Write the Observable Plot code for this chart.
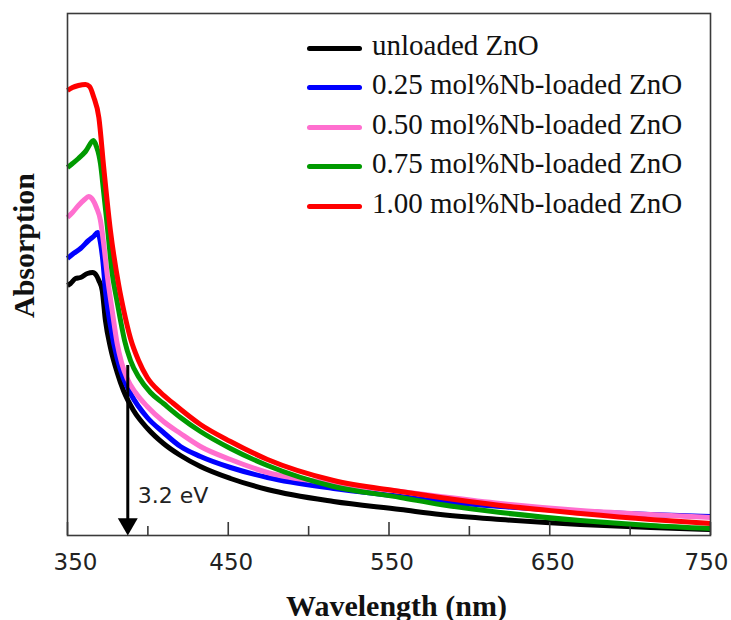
<!DOCTYPE html>
<html><head><meta charset="utf-8">
<script src="https://cdn.jsdelivr.net/npm/d3@7"></script>
<script src="https://cdn.jsdelivr.net/npm/@observablehq/plot@0.6"></script>
<style>
body{margin:0;background:#fff;}
#wrap{position:relative;width:731px;height:620px;overflow:hidden;background:#fff;}
.row{position:absolute;left:307px;height:0;}
.sw{position:absolute;left:0;width:55px;height:5px;border-radius:2.5px;top:-2.5px;}
.lt{position:absolute;left:65px;top:-17.3px;font:29px/29px "Liberation Serif",serif;white-space:nowrap;color:#111;}
</style></head><body><div id="wrap"></div>
<script>
// ---- data ----
const seriesNames = ["unloaded ZnO","0.25 mol%Nb-loaded ZnO","0.50 mol%Nb-loaded ZnO","0.75 mol%Nb-loaded ZnO","1.00 mol%Nb-loaded ZnO"];
const seriesColors = ["#000000","#0000ff","#ff6fcf","#009a00","#ff0000"];

const wlUnloaded  = [350,351.9,355,358.1,362.4,365.6,368,369.5,371.6,373.6,376.7,380.9,384.8,391.1,399.8,409.7,420.3,432.7,451.4,474.4,515.5,557.2,582,619.4,669.1,712.7,750];
const absUnloaded = [2.50,2.52,2.57,2.58,2.62,2.63,2.60,2.55,2.45,2.15,1.88,1.63,1.45,1.25,1.07,0.92,0.80,0.69,0.57,0.46,0.34,0.26,0.21,0.16,0.11,0.08,0.06];

const wlNb025  = [350,353.7,358.1,363.1,366.2,368.8,370.5,372.1,373.6,376.7,380.9,384.8,389.2,399.6,409.7,420.3,432.7,451.4,474.4,515.5,557.2,582,619.4,669.1,712.7,750];
const absNb025 = [2.77,2.82,2.87,2.95,2.99,3.03,2.93,2.73,2.45,2.10,1.77,1.57,1.42,1.18,1.03,0.89,0.79,0.68,0.58,0.47,0.39,0.34,0.29,0.24,0.21,0.19];

const wlNb050  = [350,353.1,356.8,360.6,363.1,365.6,368,370.5,372.4,374.9,377.8,380.9,383.6,387.1,392.3,399.6,409.7,420.3,432.7,451.4,474.4,515.5,557.2,582,619.4,669.1,712.7,750];
const absNb050 = [3.18,3.23,3.30,3.36,3.39,3.36,3.28,3.15,2.93,2.58,2.25,1.92,1.73,1.57,1.43,1.29,1.14,1.02,0.89,0.76,0.63,0.52,0.44,0.39,0.32,0.25,0.21,0.18];

const wlNb075  = [350,353.1,356.8,361.2,366.2,368,369.6,370.5,372.4,374.9,378,380.5,383,385.5,389.2,394.5,401.6,409.7,420.3,432.7,451.4,474.4,515.5,557.2,582,619.4,669.1,712.7,750];
const absNb075 = [3.68,3.72,3.77,3.84,3.95,3.89,3.80,3.72,3.45,3.07,2.60,2.37,2.15,1.95,1.75,1.58,1.43,1.32,1.18,1.04,0.87,0.70,0.49,0.38,0.31,0.23,0.15,0.10,0.07];

const wlNb100  = [350,353.1,356.8,361.2,363.7,366.2,369.5,372.6,376.7,381.9,385,389.2,394.2,399.6,407.9,415.9,432.7,451.4,474.4,515.5,557.2,582,619.4,669.1,712.7,750];
const absNb100 = [4.45,4.48,4.50,4.51,4.49,4.39,4.18,3.67,3.05,2.50,2.25,1.97,1.75,1.58,1.43,1.32,1.11,0.94,0.76,0.55,0.44,0.38,0.30,0.22,0.16,0.12];

const majorTicks = [350,450,550,650,750];
const minorTicks = [400,500,600,700];
const annotation = [{label: "3.2 eV", wl: 387.5, top: 1.70, base: 0}];
const xTitle = "Wavelength (nm)";
const yTitle = "Absorption";

// ---- build table ----
const wls = [wlUnloaded, wlNb025, wlNb050, wlNb075, wlNb100];
const abss = [absUnloaded, absNb025, absNb050, absNb075, absNb100];
const rows = [];
seriesNames.forEach((name, k) => wls[k].forEach((w, i) => rows.push({series: name, wl: w, abs: abss[k][i]})));

const W = 731, H = 620, mT = 13, mB = 85, mL = 67, mR = 21;
const frameH = H - mT - mB;
const tickFont = "DejaVu Sans, Verdana, sans-serif";
const tickText = {frameAnchor: "bottom", dy: 18, lineAnchor: "top", textAnchor: "middle", fontSize: 23, fontFamily: tickFont, fill: "#222", text: d => String(d)};

const chart = Plot.plot({
  width: W, height: H,
  marginTop: mT, marginBottom: mB, marginLeft: mL, marginRight: mR,
  style: {background: "#fff", fontFamily: tickFont, color: "#222", overflow: "visible"},
  x: {domain: [350, 750], axis: null, label: null},
  y: {domain: [0, 5.22], axis: null, label: null},
  color: {domain: seriesNames, range: seriesColors},
  marks: [
    Plot.line(rows, {x: "wl", y: "abs", z: "series", stroke: "series", strokeWidth: 5, curve: "monotone-x", strokeLinejoin: "round", strokeLinecap: "butt"}),
    Plot.frame({stroke: "#3a3a3a", strokeWidth: 1.6}),
    Plot.ruleX(majorTicks, {x: d => d, insetTop: frameH - 13, stroke: "#3a3a3a", strokeWidth: 1.6}),
    Plot.ruleX(minorTicks, {x: d => d, insetTop: frameH - 9, stroke: "#3a3a3a", strokeWidth: 1.6}),
    Plot.text(majorTicks.slice(0, 1), {x: d => d, dx: 8, ...tickText}),
    Plot.text(majorTicks.slice(1, -1), {x: d => d, dx: 3, ...tickText}),
    Plot.text(majorTicks.slice(-1), {x: d => d, dx: -4, ...tickText}),
    Plot.ruleX(annotation, {x: "wl", y1: "top", y2: "base", stroke: "#000", strokeWidth: 3, insetBottom: 14}),
    Plot.dot(annotation, {x: "wl", y: "base", symbol: "triangle", r: 7.4, rotate: 180, fill: "#000", stroke: null, dy: -11.5}),
    Plot.text(annotation, {x: "wl", frameAnchor: "bottom", text: "label", dx: 10, dy: -33, textAnchor: "start", lineAnchor: "bottom", fontSize: 22, fontFamily: tickFont, fill: "#222"}),
    Plot.text([xTitle], {text: d => d, frameAnchor: "bottom", dx: 7.5, dy: 80, lineAnchor: "bottom", textAnchor: "middle", fontSize: 30, fontWeight: "bold", fontFamily: "Liberation Serif, serif", fill: "#111"}),
    Plot.text([yTitle], {text: d => d, frameAnchor: "left", dx: -43, dy: -29, rotate: -90, lineAnchor: "middle", textAnchor: "middle", fontSize: 30, fontWeight: "bold", fontFamily: "Liberation Serif, serif", fill: "#111"})
  ]
});

const wrap = document.getElementById("wrap");
wrap.appendChild(chart);

// legend
seriesNames.forEach((name, i) => {
  const row = document.createElement("div");
  row.className = "row";
  row.style.top = (48 + i * 39.5) + "px";
  const sw = document.createElement("div");
  sw.className = "sw";
  sw.style.background = seriesColors[i];
  const lt = document.createElement("div");
  lt.className = "lt";
  lt.textContent = name;
  row.appendChild(sw); row.appendChild(lt);
  wrap.appendChild(row);
});
</script>
</body></html>
